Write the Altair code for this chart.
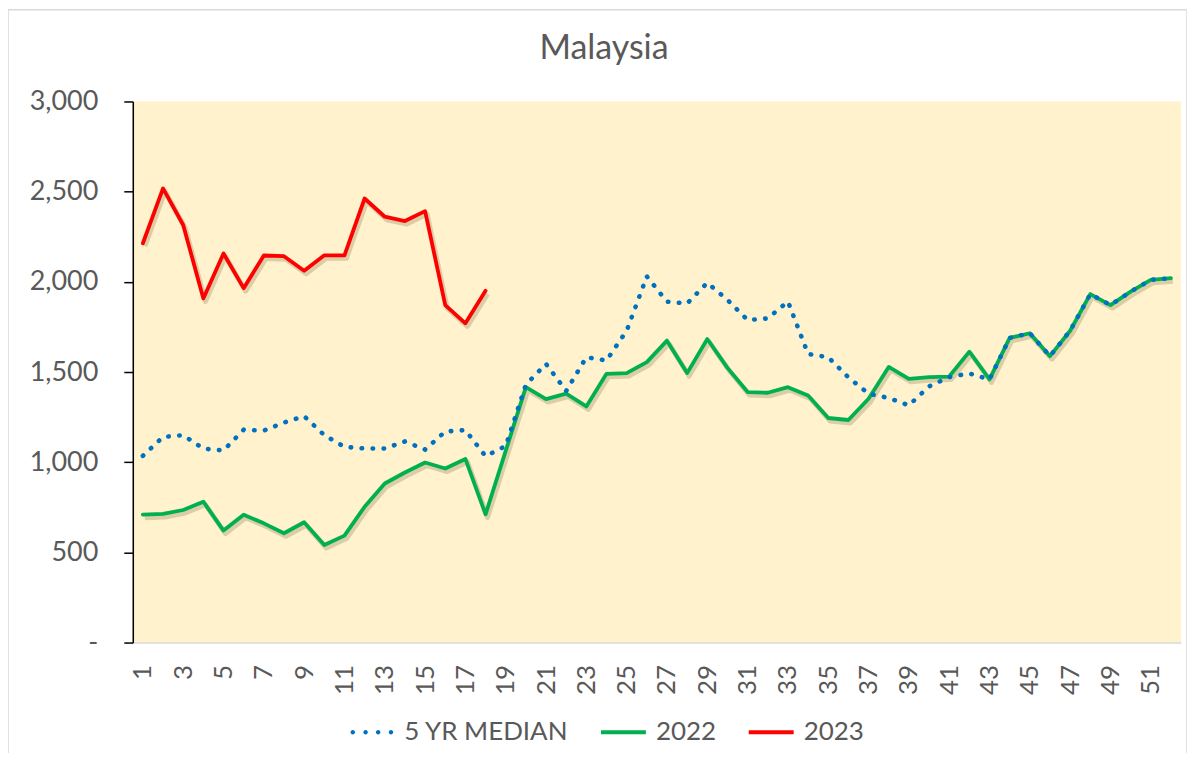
import altair as alt
import pandas as pd

# ---- data ----
weeks = list(range(1, 53))

median_5yr = [1035, 1140, 1150, 1075, 1065, 1180, 1175, 1220, 1255, 1150,
              1085, 1076, 1076, 1115, 1070, 1170, 1178, 1033, 1090, 1430,
              1545, 1395, 1582, 1564, 1729, 2030, 1890, 1880, 1995, 1900,
              1788, 1797, 1891, 1600, 1582, 1470, 1380, 1356, 1315, 1420,
              1472, 1492, 1459, 1689, 1715, 1588, 1729, 1932, 1871, 1946,
              2011, 2020]

y2022 = [709, 713, 735, 781, 621, 709, 661, 606, 667, 541,
         593, 753, 882, 943, 998, 965, 1018, 711, 1063, 1416,
         1350, 1380, 1309, 1490, 1494, 1555, 1674, 1494, 1683, 1523,
         1389, 1385, 1416, 1370, 1245, 1234, 1352, 1528, 1462, 1472,
         1475, 1613, 1459, 1689, 1715, 1588, 1729, 1932, 1871, 1946,
         2011, 2020]

y2023 = [2214, 2518, 2315, 1908, 2157, 1965, 2146, 2142, 2061, 2147,
         2147, 2462, 2361, 2337, 2392, 1871, 1770, 1950]

series_names = ["5 YR MEDIAN", "2022", "2023"]
series_colors = ["#0070C0", "#00B050", "#FF0000"]
y_ticks = [0, 500, 1000, 1500, 2000, 2500, 3000]
x_tick_labels = weeks[::2]

FONT = "Lato"
TXT = "#595959"

df_med = pd.DataFrame({"week": weeks, "value": median_5yr, "series": series_names[0]})
df_22 = pd.DataFrame({"week": weeks, "value": y2022, "series": series_names[1]})
df_23 = pd.DataFrame({"week": weeks[:len(y2023)], "value": y2023, "series": series_names[2]})
df_all = pd.concat([df_med, df_22, df_23], ignore_index=True)

x_enc = alt.X(
    "week:O",
    scale=alt.Scale(domain=weeks),
    axis=alt.Axis(values=x_tick_labels, labelAngle=-90, ticks=False,
                  domainColor="#D9D9D9", domainWidth=1.5, labelPadding=22,
                  labelFontSize=26, labelFont=FONT, labelColor=TXT, title=None),
)
y_enc = alt.Y(
    "value:Q",
    scale=alt.Scale(domain=[0, 3000], nice=False),
    axis=alt.Axis(values=y_ticks,
                  labelExpr="datum.value == 0 ? '-\u2002\u2002' : format(datum.value, ',')",
                  domainColor="#000000", domainWidth=1.5, tickColor="#000000",
                  tickWidth=1.5, tickSize=9, labelPadding=26, grid=False,
                  labelFontSize=27, labelFont=FONT, labelColor=TXT, title=None),
)

def shadow(df):
    return alt.Chart(df).mark_line(
        color="#5a4a20", opacity=0.22, strokeWidth=5, strokeJoin="round"
    ).encode(x=x_enc, y=y_enc, xOffset=alt.value(2), yOffset=alt.value(3))

green = alt.Chart(df_22).mark_line(
    color=series_colors[1], strokeWidth=3.8, strokeJoin="round", strokeCap="round"
).encode(x=x_enc, y=y_enc)

red = alt.Chart(df_23).mark_line(
    color=series_colors[2], strokeWidth=3.8, strokeJoin="round", strokeCap="round"
).encode(x=x_enc, y=y_enc)

blue = alt.Chart(df_med).mark_line(
    color=series_colors[0], strokeWidth=4.6, strokeDash=[0.5, 10.5], strokeCap="round"
).encode(x=x_enc, y=y_enc)

dots_path = ("M-0.95,0 a0.1,0.1 0 1,0 0.2,0 a0.1,0.1 0 1,0 -0.2,0 "
             "M-0.38,0 a0.1,0.1 0 1,0 0.2,0 a0.1,0.1 0 1,0 -0.2,0 "
             "M0.18,0 a0.1,0.1 0 1,0 0.2,0 a0.1,0.1 0 1,0 -0.2,0 "
             "M0.75,0 a0.1,0.1 0 1,0 0.2,0 a0.1,0.1 0 1,0 -0.2,0")
bar_path = "M-1,-0.09 L1,-0.09 L1,0.09 L-1,0.09 Z"
legend_shapes = [dots_path, bar_path, bar_path]

leg = alt.Legend(
    orient="none", legendX=217, legendY=609, direction="horizontal", title=None,
    labelFont=FONT, labelFontSize=26, labelColor=TXT, labelLimit=400,
    symbolSize=2025, symbolStrokeWidth=0, symbolOpacity=1,
    labelOffset=10, columnPadding=32, padding=0,
)

legend_layer = alt.Chart(df_all).mark_point(filled=True, opacity=0).encode(
    x=x_enc, y=y_enc,
    color=alt.Color("series:N", scale=alt.Scale(domain=series_names, range=series_colors), legend=leg),
    shape=alt.Shape("series:N", scale=alt.Scale(domain=series_names, range=legend_shapes), legend=leg),
)

border = alt.Chart(alt.Data(values=[{"b": 1}])).mark_rect(
    fill="transparent", stroke="#D9D9D9", strokeWidth=1.5
).encode(x=alt.value(-125), x2=alt.value(1056), y=alt.value(-92), y2=alt.value(657))

chart = alt.layer(
    border, shadow(df_22), shadow(df_23), green, red, blue, legend_layer
).properties(
    width=1050, height=542,
    autosize=alt.AutoSizeParams(type="none"),
    padding={"left": 125, "top": 93, "right": 6, "bottom": 110},
    title=alt.TitleParams("Malaysia", fontSize=34, font=FONT, color=TXT,
                          fontWeight="normal", anchor="middle", dx=-53,
                          offset=-57),
).configure_view(fill="#FFF2CC", strokeWidth=0)

chart.save("out.html", embed_options={"renderer": "svg", "actions": False})
